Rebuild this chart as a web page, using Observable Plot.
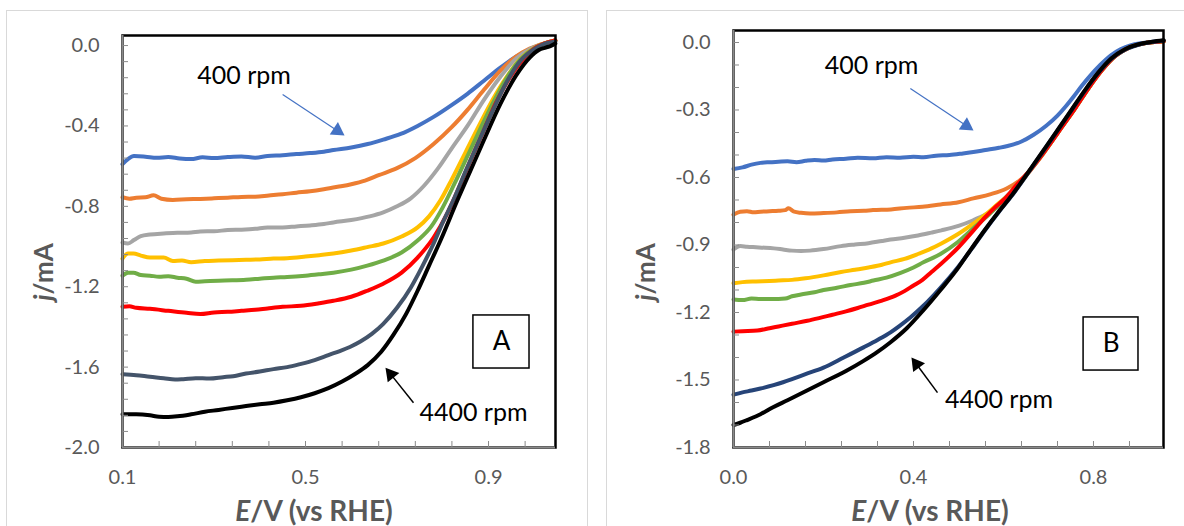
<!DOCTYPE html>
<html><head><meta charset="utf-8">
<script src="https://cdn.jsdelivr.net/npm/d3@7"></script>
<script src="https://cdn.jsdelivr.net/npm/@observablehq/plot@0.6"></script>
<style>
body{margin:0;background:#fff;}
#wrap{position:relative;width:1184px;height:526px;overflow:hidden;background:#fff;font-family:Lato,sans-serif;}
.panel{position:absolute;top:10px;height:600px;border:1.5px solid #d9d9d9;}
.chart{position:absolute;top:0;height:526px;}
.ytitle{position:absolute;font-weight:bold;font-size:26px;color:#595959;transform:translate(-50%,-50%) rotate(-90deg);white-space:nowrap;}
.xtitle{position:absolute;font-weight:bold;font-size:28px;color:#595959;transform:translate(-50%,-50%);white-space:nowrap;line-height:1;}
</style></head>
<body><div id="wrap">
<div class="panel" style="left:6px;width:580px"></div>
<div class="panel" style="left:606px;width:700px"></div>
<div id="a" class="chart" style="left:0;width:590px"></div>
<div id="b" class="chart" style="left:590px;width:594px"></div>
<div class="ytitle" style="left:43px;top:272px"><i>j</i>/mA</div>
<div class="ytitle" style="left:645px;top:272px"><i>j</i>/mA</div>
<div class="xtitle" style="left:314px;top:510px"><i>E</i>/V (vs RHE)</div>
<div class="xtitle" style="left:930px;top:510px"><i>E</i>/V (vs RHE)</div>
</div>
<script>
// ---------- series (E in V vs RHE, j in mA) ----------
const seriesNames = ["blue","orange","gray","yellow","green","red","dark","black"];
const colorsA = ["#4472c4","#ed7d31","#a5a5a5","#ffc000","#70ad47","#ff0000","#44546a","#000000"];
const colorsB = ["#4472c4","#ed7d31","#a5a5a5","#ffc000","#70ad47","#ff0000","#264478","#000000"];

// Panel A
const aBlue = [[0.10,-0.59],[0.112,-0.565],[0.125,-0.55],[0.15,-0.553],[0.175,-0.558],[0.2,-0.555],[0.225,-0.562],[0.25,-0.565],[0.275,-0.556],[0.3,-0.56],[0.33,-0.555],[0.36,-0.552],[0.39,-0.558],[0.417,-0.55],[0.45,-0.546],[0.48,-0.54],[0.51,-0.535],[0.54,-0.528],[0.561,-0.52],[0.6,-0.507],[0.636,-0.49],[0.67,-0.468],[0.708,-0.44],[0.745,-0.40],[0.78,-0.355],[0.82,-0.295],[0.854,-0.24],[0.89,-0.175],[0.926,-0.11],[0.96,-0.055],[0.998,-0.012],[1.02,0.008],[1.046,0.025]];
const aOrange = [[0.10,-0.755],[0.115,-0.762],[0.13,-0.757],[0.15,-0.755],[0.168,-0.745],[0.185,-0.762],[0.21,-0.768],[0.24,-0.765],[0.27,-0.763],[0.3,-0.76],[0.33,-0.757],[0.36,-0.753],[0.39,-0.752],[0.42,-0.746],[0.45,-0.74],[0.48,-0.732],[0.51,-0.725],[0.54,-0.715],[0.57,-0.703],[0.6,-0.69],[0.63,-0.672],[0.66,-0.645],[0.70,-0.61],[0.74,-0.56],[0.78,-0.49],[0.82,-0.405],[0.854,-0.32],[0.89,-0.22],[0.926,-0.125],[0.96,-0.055],[0.99,-0.015],[1.02,0.01],[1.046,0.025]];
const aGray = [[0.10,-0.98],[0.112,-0.985],[0.125,-0.968],[0.14,-0.948],[0.16,-0.94],[0.19,-0.935],[0.22,-0.932],[0.25,-0.93],[0.27,-0.925],[0.3,-0.924],[0.33,-0.918],[0.36,-0.916],[0.39,-0.912],[0.417,-0.905],[0.45,-0.905],[0.48,-0.9],[0.51,-0.895],[0.54,-0.888],[0.561,-0.88],[0.6,-0.868],[0.64,-0.85],[0.67,-0.83],[0.70,-0.80],[0.73,-0.76],[0.76,-0.695],[0.79,-0.61],[0.82,-0.51],[0.854,-0.40],[0.89,-0.27],[0.926,-0.155],[0.96,-0.065],[0.99,-0.018],[1.02,0.008],[1.046,0.025]];
const aYellow = [[0.10,-1.06],[0.112,-1.035],[0.124,-1.035],[0.14,-1.045],[0.16,-1.055],[0.19,-1.055],[0.21,-1.072],[0.23,-1.07],[0.25,-1.078],[0.28,-1.072],[0.31,-1.07],[0.34,-1.068],[0.37,-1.066],[0.4,-1.064],[0.43,-1.06],[0.46,-1.058],[0.5,-1.05],[0.53,-1.043],[0.561,-1.035],[0.6,-1.02],[0.635,-1.003],[0.67,-0.985],[0.71,-0.95],[0.745,-0.905],[0.77,-0.85],[0.795,-0.77],[0.82,-0.665],[0.85,-0.53],[0.88,-0.395],[0.909,-0.27],[0.94,-0.155],[0.97,-0.065],[1.0,-0.012],[1.02,0.008],[1.046,0.025]];
const aGreen = [[0.10,-1.145],[0.112,-1.13],[0.124,-1.13],[0.14,-1.142],[0.16,-1.145],[0.18,-1.15],[0.2,-1.148],[0.22,-1.155],[0.24,-1.16],[0.26,-1.175],[0.28,-1.173],[0.31,-1.17],[0.34,-1.168],[0.37,-1.165],[0.4,-1.16],[0.43,-1.155],[0.46,-1.152],[0.5,-1.145],[0.53,-1.138],[0.561,-1.13],[0.6,-1.115],[0.635,-1.095],[0.67,-1.07],[0.71,-1.03],[0.745,-0.97],[0.775,-0.9],[0.80,-0.805],[0.825,-0.69],[0.855,-0.545],[0.885,-0.4],[0.912,-0.275],[0.94,-0.16],[0.97,-0.068],[1.0,-0.013],[1.02,0.008],[1.046,0.025]];
const aRed = [[0.10,-1.30],[0.115,-1.297],[0.13,-1.305],[0.16,-1.31],[0.2,-1.32],[0.24,-1.33],[0.27,-1.336],[0.3,-1.328],[0.33,-1.325],[0.36,-1.32],[0.39,-1.315],[0.417,-1.308],[0.45,-1.3],[0.49,-1.295],[0.53,-1.282],[0.561,-1.27],[0.6,-1.25],[0.635,-1.22],[0.67,-1.185],[0.71,-1.13],[0.745,-1.055],[0.78,-0.955],[0.81,-0.835],[0.835,-0.71],[0.86,-0.575],[0.89,-0.42],[0.915,-0.29],[0.945,-0.165],[0.975,-0.07],[1.0,-0.015],[1.02,0.008],[1.046,0.025]];
const aDark = [[0.10,-1.635],[0.13,-1.64],[0.16,-1.648],[0.19,-1.655],[0.215,-1.662],[0.233,-1.66],[0.26,-1.655],[0.29,-1.657],[0.32,-1.65],[0.342,-1.645],[0.37,-1.632],[0.4,-1.622],[0.43,-1.61],[0.46,-1.6],[0.488,-1.585],[0.52,-1.565],[0.55,-1.54],[0.575,-1.52],[0.597,-1.50],[0.62,-1.473],[0.645,-1.435],[0.67,-1.385],[0.7,-1.305],[0.73,-1.205],[0.755,-1.1],[0.78,-0.985],[0.8,-0.88],[0.823,-0.77],[0.85,-0.625],[0.88,-0.47],[0.91,-0.32],[0.94,-0.18],[0.97,-0.075],[1.0,-0.018],[1.02,0.006],[1.046,0.02]];
const aBlack = [[0.10,-1.835],[0.13,-1.835],[0.16,-1.84],[0.18,-1.847],[0.2,-1.848],[0.22,-1.845],[0.25,-1.835],[0.28,-1.822],[0.31,-1.813],[0.34,-1.803],[0.37,-1.794],[0.40,-1.785],[0.43,-1.777],[0.46,-1.765],[0.49,-1.75],[0.52,-1.73],[0.55,-1.705],[0.58,-1.672],[0.61,-1.632],[0.636,-1.59],[0.665,-1.525],[0.692,-1.44],[0.72,-1.335],[0.745,-1.22],[0.77,-1.095],[0.795,-0.97],[0.832,-0.77],[0.86,-0.625],[0.89,-0.47],[0.926,-0.29],[0.96,-0.15],[0.99,-0.06],[1.01,-0.022],[1.025,-0.01],[1.035,-0.003],[1.046,0.01]];

// Panel B
const bBlue = [[0.0,-0.562],[0.02,-0.555],[0.04,-0.543],[0.06,-0.535],[0.08,-0.532],[0.1,-0.53],[0.12,-0.528],[0.14,-0.532],[0.16,-0.526],[0.18,-0.522],[0.2,-0.525],[0.22,-0.52],[0.25,-0.517],[0.276,-0.512],[0.31,-0.515],[0.34,-0.51],[0.37,-0.512],[0.4,-0.508],[0.422,-0.51],[0.45,-0.503],[0.48,-0.5],[0.51,-0.493],[0.533,-0.487],[0.56,-0.478],[0.59,-0.468],[0.609,-0.46],[0.64,-0.44],[0.667,-0.41],[0.695,-0.37],[0.72,-0.325],[0.74,-0.28],[0.756,-0.24],[0.775,-0.19],[0.793,-0.147],[0.815,-0.1],[0.838,-0.058],[0.86,-0.03],[0.882,-0.013],[0.91,-0.002],[0.956,0.008]];
const bOrange = [[0.0,-0.765],[0.015,-0.752],[0.03,-0.75],[0.045,-0.755],[0.06,-0.752],[0.08,-0.75],[0.1,-0.748],[0.115,-0.745],[0.122,-0.737],[0.135,-0.752],[0.15,-0.757],[0.17,-0.76],[0.2,-0.758],[0.23,-0.755],[0.26,-0.75],[0.29,-0.748],[0.31,-0.745],[0.35,-0.742],[0.385,-0.735],[0.42,-0.73],[0.46,-0.72],[0.5,-0.71],[0.533,-0.693],[0.57,-0.675],[0.607,-0.649],[0.635,-0.615],[0.655,-0.58],[0.667,-0.55],[0.69,-0.49],[0.72,-0.40],[0.756,-0.3],[0.79,-0.2],[0.82,-0.12],[0.85,-0.058],[0.88,-0.022],[0.91,-0.005],[0.956,0.005]];
const bGray = [[0.0,-0.92],[0.015,-0.905],[0.03,-0.908],[0.05,-0.91],[0.07,-0.912],[0.09,-0.915],[0.11,-0.92],[0.13,-0.925],[0.15,-0.927],[0.17,-0.925],[0.2,-0.918],[0.239,-0.905],[0.27,-0.898],[0.3,-0.892],[0.33,-0.882],[0.349,-0.876],[0.38,-0.868],[0.41,-0.858],[0.44,-0.845],[0.462,-0.835],[0.5,-0.815],[0.533,-0.79],[0.56,-0.765],[0.586,-0.733],[0.61,-0.70],[0.635,-0.635],[0.66,-0.565],[0.70,-0.46],[0.73,-0.375],[0.76,-0.29],[0.79,-0.2],[0.82,-0.12],[0.85,-0.058],[0.88,-0.022],[0.91,-0.005],[0.956,0.005]];
const bYellow = [[0.0,-1.07],[0.02,-1.065],[0.05,-1.062],[0.08,-1.06],[0.1,-1.058],[0.13,-1.055],[0.16,-1.048],[0.2,-1.035],[0.239,-1.02],[0.27,-1.01],[0.3,-1.0],[0.33,-0.988],[0.349,-0.977],[0.38,-0.962],[0.41,-0.94],[0.44,-0.915],[0.462,-0.893],[0.5,-0.85],[0.533,-0.805],[0.56,-0.765],[0.586,-0.72],[0.61,-0.68],[0.635,-0.63],[0.66,-0.565],[0.70,-0.46],[0.73,-0.375],[0.76,-0.29],[0.79,-0.2],[0.82,-0.12],[0.85,-0.058],[0.88,-0.022],[0.91,-0.005],[0.956,0.005]];
const bGreen = [[0.0,-1.142],[0.02,-1.145],[0.04,-1.138],[0.06,-1.14],[0.08,-1.14],[0.1,-1.14],[0.115,-1.138],[0.13,-1.128],[0.15,-1.12],[0.18,-1.11],[0.2,-1.10],[0.23,-1.09],[0.26,-1.078],[0.29,-1.068],[0.311,-1.058],[0.34,-1.045],[0.37,-1.025],[0.4,-1.0],[0.422,-0.977],[0.46,-0.94],[0.498,-0.888],[0.536,-0.82],[0.57,-0.76],[0.6,-0.70],[0.63,-0.635],[0.66,-0.565],[0.70,-0.46],[0.73,-0.375],[0.76,-0.29],[0.79,-0.2],[0.82,-0.12],[0.85,-0.058],[0.88,-0.022],[0.91,-0.005],[0.956,0.005]];
const bRed = [[0.0,-1.285],[0.02,-1.283],[0.053,-1.28],[0.08,-1.27],[0.1,-1.262],[0.13,-1.25],[0.164,-1.237],[0.19,-1.225],[0.22,-1.21],[0.25,-1.195],[0.276,-1.18],[0.3,-1.165],[0.33,-1.147],[0.36,-1.125],[0.38,-1.105],[0.4,-1.08],[0.42,-1.055],[0.44,-1.02],[0.462,-0.982],[0.5,-0.91],[0.533,-0.836],[0.56,-0.775],[0.58,-0.735],[0.6,-0.70],[0.63,-0.632],[0.66,-0.565],[0.70,-0.46],[0.73,-0.375],[0.76,-0.29],[0.79,-0.2],[0.82,-0.12],[0.85,-0.058],[0.88,-0.022],[0.91,-0.005],[0.956,0.005]];
const bDark = [[0.0,-1.565],[0.02,-1.555],[0.04,-1.547],[0.06,-1.538],[0.089,-1.523],[0.11,-1.51],[0.13,-1.496],[0.16,-1.474],[0.2,-1.445],[0.245,-1.40],[0.289,-1.355],[0.32,-1.322],[0.349,-1.288],[0.37,-1.258],[0.393,-1.222],[0.422,-1.17],[0.46,-1.09],[0.5,-0.995],[0.53,-0.915],[0.556,-0.842],[0.59,-0.752],[0.62,-0.677],[0.651,-0.59],[0.69,-0.478],[0.72,-0.392],[0.751,-0.302],[0.78,-0.217],[0.81,-0.137],[0.84,-0.072],[0.87,-0.032],[0.9,-0.01],[0.93,0.002],[0.956,0.008]];
const bBlack = [[0.0,-1.70],[0.015,-1.69],[0.03,-1.678],[0.06,-1.652],[0.089,-1.62],[0.12,-1.59],[0.16,-1.55],[0.2,-1.51],[0.25,-1.46],[0.289,-1.415],[0.32,-1.375],[0.349,-1.332],[0.385,-1.27],[0.422,-1.19],[0.46,-1.1],[0.498,-1.005],[0.524,-0.93],[0.556,-0.84],[0.59,-0.75],[0.62,-0.675],[0.651,-0.588],[0.69,-0.476],[0.72,-0.39],[0.751,-0.3],[0.78,-0.215],[0.81,-0.135],[0.84,-0.07],[0.87,-0.03],[0.9,-0.008],[0.93,0.003],[0.956,0.01]];

// ---------- axes ----------
const aXDomain = [0.1, 1.0464];
const aYDomain = [-2.0, 0.05];
const aXLabels = [0.1, 0.5, 0.9];
const aYLabels = [0.0, -0.4, -0.8, -1.2, -1.6, -2.0];
const aXMinor = d3.range(0, 12).map(i => 0.1 + i * 0.08);
const aYMinor = d3.range(0, 26).map(i => -2.0 + i * 0.08);

const bXDomain = [0.0, 0.9556];
const bYDomain = [-1.8, 0.0533];
const bXLabels = [0.0, 0.4, 0.8];
const bYLabels = [0.0, -0.3, -0.6, -0.9, -1.2, -1.5, -1.8];
const bXMinor = d3.range(0, 12).map(i => i * 0.08);
const bYMinor = d3.range(0, 19).map(i => -1.8 + i * 0.1);

// ---------- annotations ----------
const aNotes = [{x: 0.3656, y: -0.154, t: "400 rpm"}, {x: 0.867, y: -1.826, t: "4400 rpm"}];
const bNotes = [{x: 0.3067, y: -0.104, t: "400 rpm"}, {x: 0.59, y: -1.591, t: "4400 rpm"}];
const aArrows = [
  {x1: 0.45, y1: -0.243, x2: 0.5697, y2: -0.4235, rot: 123.5, c: "#4472c4", w: 1.2},
  {x1: 0.736, y1: -1.777, x2: 0.6865, y2: -1.636, rot: -38.7, c: "#000000", w: 1.5}
];
const bArrows = [
  {x1: 0.393, y1: -0.204, x2: 0.5176, y2: -0.370, rot: 123.7, c: "#4472c4", w: 1.2},
  {x1: 0.4533, y1: -1.556, x2: 0.4068, y2: -1.430, rot: -36.6, c: "#000000", w: 1.5}
];
const aBox = [{x1: 0.867, x2: 0.9896, y1: -1.343, y2: -1.607, t: "A"}];
const bBox = [{x1: 0.778, x2: 0.900, y1: -1.222, y2: -1.458, t: "B"}];

function rows(list) {
  return list.flatMap((pts, i) => pts.map(([E, j]) => ({s: seriesNames[i], E, j})));
}

function panel(cfg) {
  const axisGray = "#8a8a8a";
  return Plot.plot({
    width: cfg.width, height: 526,
    marginLeft: cfg.ml, marginRight: cfg.mr, marginTop: cfg.mt, marginBottom: 79,
    style: {fontFamily: "Lato, sans-serif", fontSize: "20px", background: "transparent"},
    x: {domain: cfg.xd, axis: null},
    y: {domain: cfg.yd, axis: null},
    color: {domain: seriesNames, range: cfg.colors},
    marks: [
      Plot.line(rows(cfg.series), {x: "E", y: "j", z: "s", stroke: "s", strokeWidth: 4, curve: "monotone-x"}),
      Plot.frame({stroke: "black", strokeWidth: 2.5}),
      Plot.ruleX([cfg.xd[0]], {stroke: axisGray, strokeWidth: 2}),
      Plot.ruleY([cfg.yd[0]], {stroke: axisGray, strokeWidth: 2}),
      Plot.axisY(cfg.yMinor, {tickSize: 6, insetLeft: 6, tickFormat: () => "", label: null, color: axisGray}),
      Plot.axisX(cfg.xMinor, {tickSize: 6, insetBottom: 6, tickFormat: () => "", label: null, color: axisGray}),
      Plot.axisY(cfg.yLabels, {tickSize: 0, tickPadding: 23, tickFormat: d => d.toFixed(1), label: null, color: "#595959"}),
      Plot.axisX(cfg.xLabels, {tickSize: 0, tickPadding: 22, tickFormat: d => d.toFixed(1), label: null, color: "#595959"}),
      Plot.link(cfg.arrows, {x1: "x1", y1: "y1", x2: "x2", y2: "y2", stroke: d => d.c, strokeWidth: d => d.w}),
      Plot.dot(cfg.arrows, {x: "x2", y: "y2", symbol: "triangle", r: 5.5, fill: d => d.c, stroke: "none", rotate: "rot"}),
      Plot.rect(cfg.box, {x1: "x1", x2: "x2", y1: "y1", y2: "y2", fill: "white", stroke: "black", strokeWidth: 1.5}),
      Plot.text(cfg.box, {x: d => (d.x1 + d.x2) / 2, y: d => (d.y1 + d.y2) / 2, text: "t", fontSize: 26, fill: "black"}),
      Plot.text(cfg.notes, {x: "x", y: "y", text: "t", fontSize: 25, fill: "black"})
    ]
  });
}

document.getElementById("a").append(panel({
  width: 590, ml: 122, mr: 35, mt: 35, xd: aXDomain, yd: aYDomain, colors: colorsA,
  series: [aBlue, aOrange, aGray, aYellow, aGreen, aRed, aDark, aBlack],
  xLabels: aXLabels, yLabels: aYLabels, xMinor: aXMinor, yMinor: aYMinor,
  notes: aNotes, arrows: aArrows, box: aBox
}));
document.getElementById("b").append(panel({
  width: 594, ml: 143, mr: 21, mt: 30, xd: bXDomain, yd: bYDomain, colors: colorsB,
  series: [bBlue, bOrange, bGray, bYellow, bGreen, bRed, bDark, bBlack],
  xLabels: bXLabels, yLabels: bYLabels, xMinor: bXMinor, yMinor: bYMinor,
  notes: bNotes, arrows: bArrows, box: bBox
}));
</script>
</body></html>
